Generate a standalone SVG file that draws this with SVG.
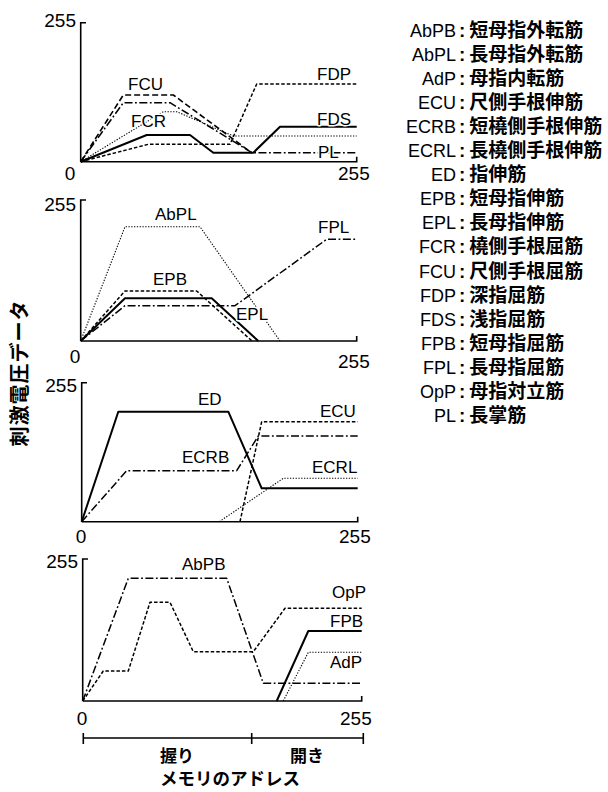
<svg xmlns="http://www.w3.org/2000/svg" width="608" height="792" viewBox="0 0 608 792">
<style>
  .ax{fill:none;stroke:#000;stroke-width:1.6}
  .c{fill:none;stroke:#000;stroke-linejoin:round}
  .solid{stroke-width:2}
  .dash{stroke-width:1.6;stroke-dasharray:6 3}
  .sdash{stroke-width:1.5;stroke-dasharray:3.5 2}
  .dot{stroke-width:1.1;stroke-dasharray:1.3 1.5}
  .dd{stroke-width:1.5;stroke-dasharray:8 2.5 1.8 2.5}
  .lab{font-family:"Liberation Sans",Arial,sans-serif;font-size:17px;fill:#000;stroke:#fff;stroke-width:3px;paint-order:stroke;stroke-linejoin:round}
  .num{font-family:"Liberation Sans",Arial,sans-serif;font-size:19px;fill:#000}
  .ab{font-family:"Liberation Sans",Arial,sans-serif;font-size:18px;fill:#000;text-anchor:end}
  .jp{font-family:"Liberation Sans","Noto Sans CJK JP",sans-serif;font-size:19px;fill:#000;font-weight:bold}
  .jt{font-family:"Noto Sans CJK JP",sans-serif;fill:#000;font-weight:bold}
</style>

<text class="jt" font-size="20" letter-spacing="1" text-anchor="middle" transform="translate(27,373) rotate(-90)">刺激電圧データ</text>

<g id="chart1">
  <path class="ax" d="M80.7,161.7 V22.7 H86"/>
  <path class="ax" d="M80.7,161.7 H356.7 V156.7"/>
  <text class="num" x="76" y="27" text-anchor="end">255</text>
  <text class="num" x="70" y="180" text-anchor="middle">0</text>
  <text class="num" x="338" y="180">255</text>
  <g id="curves1">
    <path class="c dash" d="M80.7,161.7 L123.3,95 L173.3,95 L252,153"/>
    <path class="c dd" d="M80.7,161.7 L123.3,102.7 L170,102.7 L252,152.7 L356.7,152.7"/>
    <path class="c dot" d="M80.7,161.7 L163.3,111.7 L176.7,111.7 L233.3,136 L356.7,136"/>
    <path class="c solid" d="M80.7,161.7 L146.7,135 L190,135 L213.3,152.7 L253.3,152.7 L280,126.7 L356.7,126.7"/>
    <path class="c sdash" d="M80.7,161.7 L148.3,144.3 L230,144.3 L256.7,84 L356.7,84"/>
  </g>
  <text class="lab" x="128" y="90">FCU</text>
  <text class="lab" x="131" y="126.5">FCR</text>
  <text class="lab" x="317" y="80">FDP</text>
  <text class="lab" x="317" y="125">FDS</text>
  <text class="lab" x="318" y="158">PL</text>
</g>

<g id="chart2">
  <path class="ax" d="M80.7,341 V200 H86"/>
  <path class="ax" d="M80.7,341 H356.7 V336"/>
  <text class="num" x="76" y="211" text-anchor="end">255</text>
  <text class="num" x="75" y="363" text-anchor="middle">0</text>
  <text class="num" x="338" y="368">255</text>
  <g id="curves2">
    <path class="c dot" d="M80.7,341 L125,226.7 L200,226.7 L280,341"/>
    <path class="c sdash" d="M80.7,341 L125,291 L196.7,291 L252,341"/>
    <path class="c solid" d="M80.7,341 L125,298.3 L211.7,298.3 L258.3,341"/>
    <path class="c dd" d="M80.7,341 L125,305.7 L235,305.7 L326.7,239.3 L356.7,239.3"/>
  </g>
  <text class="lab" x="155" y="220">AbPL</text>
  <text class="lab" x="153" y="285">EPB</text>
  <text class="lab" x="236" y="320">EPL</text>
  <text class="lab" x="318" y="233">FPL</text>
</g>

<g id="chart3">
  <path class="ax" d="M81.7,521.7 V382.7 H87"/>
  <path class="ax" d="M81.7,521.7 H357.7 V516.7"/>
  <text class="num" x="77" y="392" text-anchor="end">255</text>
  <text class="num" x="81" y="543" text-anchor="middle">0</text>
  <text class="num" x="339" y="543">255</text>
  <g id="curves3">
    <path class="c solid" d="M81.7,521.7 L118.3,411.7 L228.3,411.7 L261.7,488.3 L357.7,488.3"/>
    <path class="c dd" d="M81.7,521.7 L126.7,470.7 L236.7,470.7 L258.3,436 L357.7,436"/>
    <path class="c sdash" d="M240,521.7 L261.7,421.7 L357.7,421.7"/>
    <path class="c dot" d="M219.3,521.7 L283.3,478.3 L357.7,478.3"/>
  </g>
  <text class="lab" x="198" y="405">ED</text>
  <text class="lab" x="320" y="417">ECU</text>
  <text class="lab" x="182" y="463">ECRB</text>
  <text class="lab" x="312" y="473">ECRL</text>
</g>

<g id="chart4">
  <path class="ax" d="M82.7,701 V559 H88"/>
  <path class="ax" d="M82.7,701 H361.7 V696"/>
  <text class="num" x="78" y="568" text-anchor="end">255</text>
  <text class="num" x="82" y="725" text-anchor="middle">0</text>
  <text class="num" x="340" y="725">255</text>
  <g id="curves4">
    <path class="c dd" d="M82.7,701 L128.3,578.3 L226.7,578.3 L263.3,683.3 L361.7,683.3"/>
    <path class="c sdash" d="M82.7,701 L103.3,671 L128.3,671 L150,602.3 L170,602.3 L193.3,651.7 L253.3,651.7 L285,608.3 L361.7,608.3"/>
    <path class="c solid" d="M276.7,701 L308.3,631 L361.7,631"/>
    <path class="c dot" d="M283.3,701 L308.3,652.3 L361.7,652.3"/>
  </g>
  <text class="lab" x="182" y="570">AbPB</text>
  <text class="lab" x="332" y="598" font-size="16">OpP</text>
  <text class="lab" x="330" y="627" font-size="16">FPB</text>
  <text class="lab" x="330" y="668" font-size="16">AdP</text>
</g>

<g id="xaxis">
  <path class="ax" d="M83.3,738 H363.3 M83.3,733 V744 M251.7,733 V744 M363.3,733 V744"/>
  <text class="jt" font-size="17" x="160" y="762">握り</text>
  <text class="jt" font-size="17" x="290" y="762">開き</text>
  <text class="jt" font-size="17.5" x="160" y="785">メモリのアドレス</text>
</g>

<g id="legend">
  <text class="ab" x="456" y="36.5">AbPB</text><text class="jp" x="459" y="36.5">:<tspan dx="4">短母指外転筋</tspan></text>
  <text class="ab" x="456" y="60.6">AbPL</text><text class="jp" x="459" y="60.6">:<tspan dx="4">長母指外転筋</tspan></text>
  <text class="ab" x="456" y="84.7">AdP</text><text class="jp" x="459" y="84.7">:<tspan dx="4">母指内転筋</tspan></text>
  <text class="ab" x="456" y="108.8">ECU</text><text class="jp" x="459" y="108.8">:<tspan dx="4">尺側手根伸筋</tspan></text>
  <text class="ab" x="456" y="132.9">ECRB</text><text class="jp" x="459" y="132.9">:<tspan dx="4">短橈側手根伸筋</tspan></text>
  <text class="ab" x="456" y="157">ECRL</text><text class="jp" x="459" y="157">:<tspan dx="4">長橈側手根伸筋</tspan></text>
  <text class="ab" x="456" y="181.1">ED</text><text class="jp" x="459" y="181.1">:<tspan dx="4">指伸筋</tspan></text>
  <text class="ab" x="456" y="205.2">EPB</text><text class="jp" x="459" y="205.2">:<tspan dx="4">短母指伸筋</tspan></text>
  <text class="ab" x="456" y="229.3">EPL</text><text class="jp" x="459" y="229.3">:<tspan dx="4">長母指伸筋</tspan></text>
  <text class="ab" x="456" y="253.4">FCR</text><text class="jp" x="459" y="253.4">:<tspan dx="4">橈側手根屈筋</tspan></text>
  <text class="ab" x="456" y="277.5">FCU</text><text class="jp" x="459" y="277.5">:<tspan dx="4">尺側手根屈筋</tspan></text>
  <text class="ab" x="456" y="301.6">FDP</text><text class="jp" x="459" y="301.6">:<tspan dx="4">深指屈筋</tspan></text>
  <text class="ab" x="456" y="325.7">FDS</text><text class="jp" x="459" y="325.7">:<tspan dx="4">浅指屈筋</tspan></text>
  <text class="ab" x="456" y="349.8">FPB</text><text class="jp" x="459" y="349.8">:<tspan dx="4">短母指屈筋</tspan></text>
  <text class="ab" x="456" y="373.9">FPL</text><text class="jp" x="459" y="373.9">:<tspan dx="4">長母指屈筋</tspan></text>
  <text class="ab" x="456" y="398">OpP</text><text class="jp" x="459" y="398">:<tspan dx="4">母指対立筋</tspan></text>
  <text class="ab" x="456" y="422.1">PL</text><text class="jp" x="459" y="422.1">:<tspan dx="4">長掌筋</tspan></text>
</g>
</svg>
